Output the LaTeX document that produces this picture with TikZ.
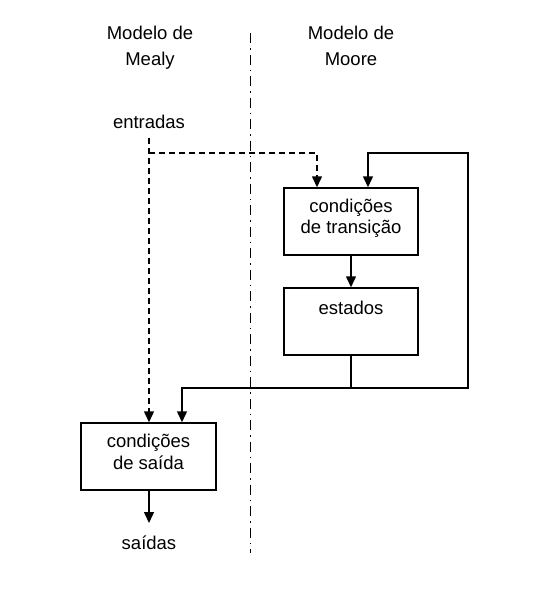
\documentclass[tikz,border=0pt]{standalone}
\usepackage{fontspec}
\setmainfont{Liberation Sans}
\usetikzlibrary{arrows.meta}
\begin{document}
\begin{tikzpicture}[x=1pt,y=-1pt,
  font=\fontsize{18.5}{21.5}\selectfont,
  blk/.style={draw,line width=1.5pt,minimum width=134pt,minimum height=67pt,inner sep=0pt},
  lbl/.style={align=center,inner sep=0pt,anchor=base},
  arr/.style={line width=1.5pt,-{Triangle[length=11pt,width=10pt]}},
  dsh/.style={arr,dash pattern=on 6pt off 4pt},
  ln/.style={line width=1.5pt}]
\useasboundingbox (0,0) rectangle (554,592);
% divider
\coordinate (dtop) at (250,33);
\coordinate (dbot) at (250,553);
\draw[line width=1pt,dash pattern=on 10pt off 5pt on 1.5pt off 5pt] (dtop) -- (dbot);
% titles
\node[lbl,font=\fontsize{18.5}{25.7}\selectfont] (mealy) at (150,65) {Modelo de\\Mealy};
\node[lbl,font=\fontsize{18.5}{25.7}\selectfont] (moore) at (351,65) {Modelo de\\Moore};
% boxes
\node[blk] (ct) at (351,221.5) {};
\node[lbl] (cttxt) at (351,233.5) {condições\\de transição};
\node[blk] (est) at (351,321.5) {};
\node[lbl] (esttxt) at (351,314.5) {estados};
\node[blk,minimum width=135pt] (cs) at (148.5,456.5) {};
\node[lbl] (cstxt) at (148.5,469) {condições\\de saída};
\node[lbl] (ent) at (149,128) {entradas};
\node[lbl] (sai) at (149,549) {saídas};
% coordinates
\coordinate (e0) at (149,138);
\coordinate (e1) at (149,153);
\coordinate (e2) at (317,153);
\coordinate (f0) at (351,388);
\coordinate (f1) at (468,388);
\coordinate (f2) at (468,153);
\coordinate (f3) at (368,153);
\coordinate (g0) at (182,388);
\coordinate (s1) at (149,523);
% connectors
\draw[dsh] (e0) -- (e0 |- cs.north);
\draw[dsh] (e1) -- (e2) -- (e2 |- ct.north);
\draw[arr] (ct.south) -- (est.north);
\draw[ln] (est.south) -- (f0);
\draw[arr] (f0) -- (f1) -- (f2) -- (f3) -- (f3 |- ct.north);
\draw[arr] (f0) -- (g0) -- (g0 |- cs.north);
\draw[arr] (cs.south -| s1) -- (s1);
\end{tikzpicture}
\end{document}
